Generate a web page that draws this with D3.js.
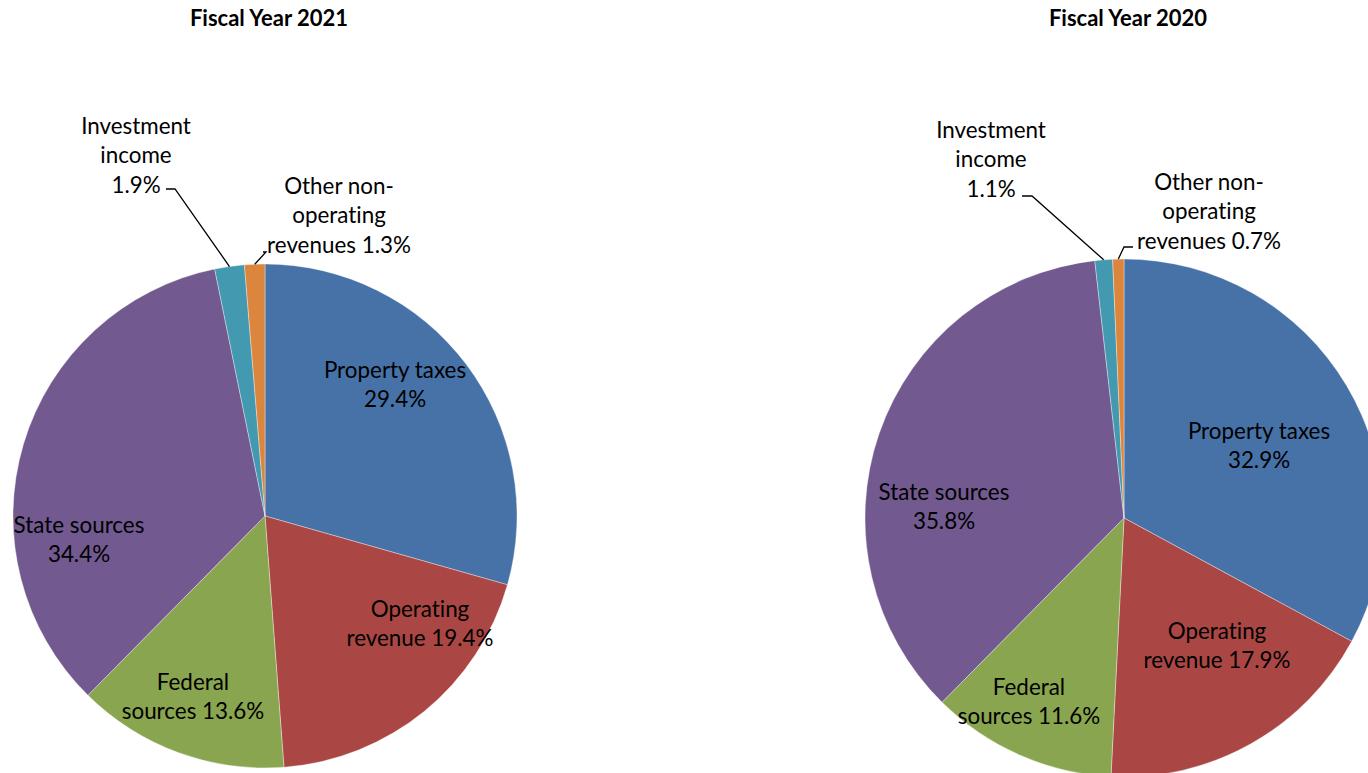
<!DOCTYPE html>
<html>
<head>
<meta charset="utf-8">
<script src="https://cdn.jsdelivr.net/npm/d3@7"></script>
<style>
  html, body { margin: 0; padding: 0; background: #fff; overflow: hidden; }
  svg { display: block; }
  text { font-family: Lato, "Open Sans", sans-serif; fill: #000; font-variant-ligatures: none; }
</style>
</head>
<body>
<svg id="chart" width="1368" height="773"></svg>
<script>
// ---- data ----
const categories = ["Property taxes", "Operating revenue", "Federal sources", "State sources", "Investment income", "Other non-operating revenues"];
const colors = ["#4672A8", "#AA4744", "#8AA54F", "#72598F", "#4299B0", "#DB853D"];
const titles = ["Fiscal Year 2021", "Fiscal Year 2020"];
const values2021 = [29.4, 19.4, 13.6, 34.4, 1.9, 1.3];
const values2020 = [32.9, 17.9, 11.6, 35.8, 1.1, 0.7];
const labelText2021 = [
  ["Property taxes", "29.4%"],
  ["Operating", "revenue 19.4%"],
  ["Federal", "sources 13.6%"],
  ["State sources", "34.4%"],
  ["Investment", "income", "1.9%"],
  ["Other non-", "operating", "revenues 1.3%"]
];
const labelText2020 = [
  ["Property taxes", "32.9%"],
  ["Operating", "revenue 17.9%"],
  ["Federal", "sources 11.6%"],
  ["State sources", "35.8%"],
  ["Investment", "income", "1.1%"],
  ["Other non-", "operating", "revenues 0.7%"]
];

// ---- layout (positions kept apart from data) ----
const charts = [
  {
    values: values2021, labels: labelText2021, title: titles[0],
    cx: 265, cy: 516, r: 252, titleX: 269, titleY: 26,
    labelPos: [[395, 370], [420, 609], [193, 682], [79, 525], [136, 126], [339, 186]],
    leaders: { 4: [[166, 189], [175, 189]], 5: [[263, 252], [266, 252]] }
  },
  {
    values: values2020, labels: labelText2020, title: titles[1],
    cx: 1124, cy: 518, r: 259, titleX: 1128, titleY: 26,
    labelPos: [[1259, 431], [1217, 631], [1029, 687], [944, 492], [991, 130], [1209, 182]],
    leaders: { 4: [[1022, 196], [1032, 196]], 5: [[1133, 247], [1124, 247]] }
  }
];

const svg = d3.select("#chart");
const fontSize = 22.4;
const lineH = 29.5;

const pie = d3.pie().sort(null).value(d => d);

charts.forEach(c => {
  const arc = d3.arc().innerRadius(0).outerRadius(c.r);
  const g = svg.append("g").attr("transform", `translate(${c.cx},${c.cy})`);
  const arcs = pie(c.values);
  g.selectAll("path.slice").data(arcs).join("path")
    .attr("class", "slice")
    .attr("d", arc)
    .attr("fill", (d, i) => colors[i])
    .attr("stroke", "#ffffff")
    .attr("stroke-opacity", 0.6)
    .attr("stroke-width", 0.6);

  // leader lines for small slices: from label anchor to slice outer edge midpoint
  const edgeArc = d3.arc().innerRadius(c.r).outerRadius(c.r);
  Object.keys(c.leaders).forEach(k => {
    const i = +k;
    const pts = c.leaders[k].slice();
    const e = edgeArc.centroid(arcs[i]);
    pts.push([c.cx + e[0], c.cy + e[1]]);
    svg.append("path")
      .attr("d", d3.line()(pts))
      .attr("fill", "none")
      .attr("stroke", "#000")
      .attr("stroke-width", 1.3);
  });

  // labels
  c.labels.forEach((lines, i) => {
    const [lx, ly] = c.labelPos[i];
    const t = svg.append("text")
      .attr("text-anchor", "middle")
      .attr("font-size", fontSize);
    lines.forEach((ln, j) => {
      t.append("tspan")
        .attr("x", lx)
        .attr("y", ly + 7.5 + j * lineH)
        .text(ln);
    });
  });

  // title
  svg.append("text")
    .attr("x", c.titleX)
    .attr("y", c.titleY)
    .attr("text-anchor", "middle")
    .attr("font-size", 22)
    .attr("font-weight", "bold")
    .text(c.title);
});
</script>
</body>
</html>
